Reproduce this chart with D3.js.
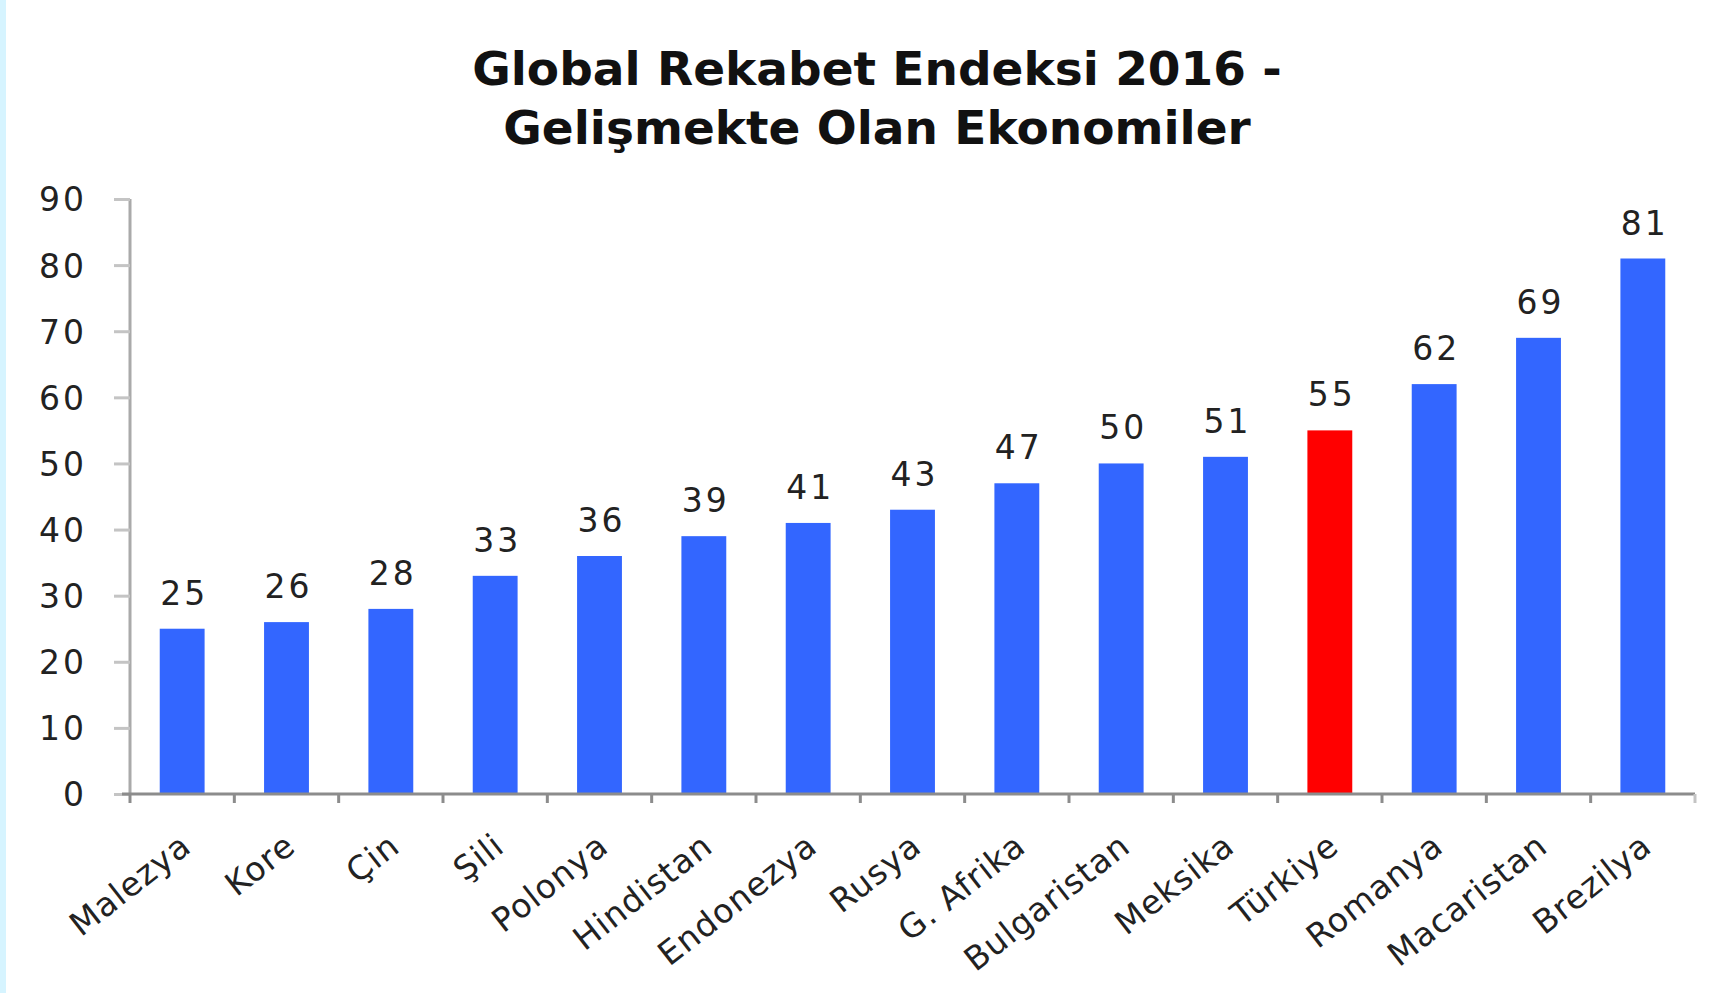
<!DOCTYPE html>
<html>
<head>
<meta charset="utf-8">
<script src="https://cdn.jsdelivr.net/npm/d3@7"></script>
<style>
  body { margin: 0; background: #fff; }
  svg { display: block; }
</style>
</head>
<body>
<script>
var countries = ['Malezya', 'Kore', 'Çin', 'Şili', 'Polonya', 'Hindistan', 'Endonezya', 'Rusya',
    'G. Afrika', 'Bulgaristan', 'Meksika', 'Türkiye', 'Romanya', 'Macaristan', 'Brezilya'];
var scores = [25, 26, 28, 33, 36, 39, 41, 43, 47, 50, 51, 55, 62, 69, 81];
var yTicks = [0, 10, 20, 30, 40, 50, 60, 70, 80, 90];
var titleLines = ['Global Rekabet Endeksi 2016 -', 'Gelişmekte Olan Ekonomiler'];
var highlight = 'Türkiye';

var svgWidth = 1734;
var svgHeight = 993;

var svg = d3.select('body')
    .append('svg')
    .attr('width', svgWidth)
    .attr('height', svgHeight);

// light blue strip on the left edge
svg.append('rect')
    .attr('x', 0)
    .attr('y', 0)
    .attr('width', 6)
    .attr('height', svgHeight)
    .style('fill', '#d6f4ff');

var x = d3.scaleBand()
    .domain(countries)
    .range([130, 1695])
    .paddingInner(0.57)
    .paddingOuter(0.285);

var y = d3.scaleLinear()
    .domain([0, 90])
    .range([794, 199]);

// title
svg.selectAll('.title')
    .data(titleLines)
    .enter()
    .append('text')
    .attr('class', 'title')
    .attr('x', 877)
    .attr('y', function (d, i) {
        return 85 + i * 59;
    })
    .attr('text-anchor', 'middle')
    .attr('font-family', 'DejaVu Sans, sans-serif')
    .attr('font-weight', 'bold')
    .attr('font-size', 47)
    .style('fill', '#111')
    .text(function (d) {
        return d;
    });

// y axis
var yAxis = svg.append('g')
    .attr('transform', 'translate(130,0)')
    .call(d3.axisLeft(y).tickValues(yTicks).tickSize(16).tickPadding(27));

yAxis.select('.domain')
    .attr('stroke', '#aaaaaa')
    .attr('stroke-width', 3)
    .attr('d', 'M0,' + y(90) + 'V' + y(0));
yAxis.selectAll('.tick line')
    .attr('stroke', '#c4c4c4')
    .attr('stroke-width', 3);
yAxis.selectAll('.tick text')
    .attr('font-family', 'DejaVu Sans, sans-serif')
    .attr('font-size', 33)
    .attr('letter-spacing', 3)
    .attr('dy', '0.36em')
    .style('fill', '#222');

// bars
svg.selectAll('.bar')
    .data(countries)
    .enter()
    .append('rect')
    .attr('class', 'bar')
    .attr('x', function (d) {
        return x(d);
    })
    .attr('y', function (d, i) {
        return y(scores[i]);
    })
    .attr('width', x.bandwidth())
    .attr('height', function (d, i) {
        return y(0) - y(scores[i]);
    })
    .style('fill', function (d) {
        return d === highlight ? '#ff0000' : '#3366ff';
    });

// value labels
svg.selectAll('.value')
    .data(countries)
    .enter()
    .append('text')
    .attr('class', 'value')
    .attr('x', function (d) {
        return x(d) + x.bandwidth() / 2 + 2;
    })
    .attr('y', function (d, i) {
        return y(scores[i]) - 24;
    })
    .attr('text-anchor', 'middle')
    .attr('font-family', 'DejaVu Sans, sans-serif')
    .attr('font-size', 33)
    .attr('letter-spacing', 3)
    .style('fill', '#222')
    .text(function (d, i) {
        return scores[i];
    });

// x axis
var xAxisLine = svg.append('g');
xAxisLine.append('line')
    .attr('x1', 122)
    .attr('x2', 1695)
    .attr('y1', y(0))
    .attr('y2', y(0))
    .attr('stroke', '#8c8c8c')
    .attr('stroke-width', 3);

var step = x.step();
xAxisLine.selectAll('.xtick')
    .data(d3.range(countries.length + 1))
    .enter()
    .append('line')
    .attr('class', 'xtick')
    .attr('x1', function (i) {
        return 130 + i * step;
    })
    .attr('x2', function (i) {
        return 130 + i * step;
    })
    .attr('y1', y(0))
    .attr('y2', y(0) + 9)
    .attr('stroke', function (i) {
        return i === countries.length ? '#c4c4c4' : '#8c8c8c';
    })
    .attr('stroke-width', 3);

// category labels
svg.selectAll('.cat')
    .data(countries)
    .enter()
    .append('text')
    .attr('class', 'cat')
    .attr('transform', function (d) {
        var cx = x(d) + x.bandwidth() / 2 + 11;
        return 'translate(' + cx + ',' + (y(0) + 56) + ') rotate(-38)';
    })
    .attr('text-anchor', 'end')
    .attr('font-family', 'DejaVu Sans, sans-serif')
    .attr('font-size', 33)
    .attr('letter-spacing', 1)
    .style('fill', '#222')
    .text(function (d) {
        return d;
    });
</script>
</body>
</html>
